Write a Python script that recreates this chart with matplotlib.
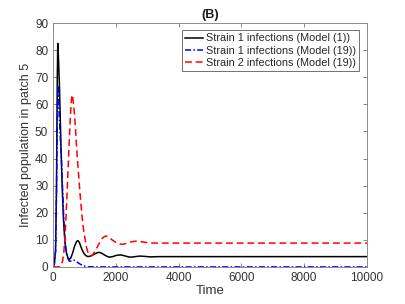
import numpy as np
import matplotlib.pyplot as plt

plt.rcParams['font.family'] = ['Liberation Sans', 'DejaVu Sans']

# Strain 1 infections, Model (1)
t_m1 = [0, 40, 80, 110, 135, 150, 170, 200, 230, 255, 290, 330, 380, 430, 470, 507, 560, 620,
        690, 750, 792, 840, 900, 970, 1040, 1110, 1200, 1300, 1400, 1460, 1540, 1640, 1720, 1800,
        1900, 2000, 2100, 2170, 2280, 2400, 2490, 2620, 2760, 2900, 3100, 3400, 4000, 5000, 10000]
y_m1 = [0, 1, 6, 30, 70, 82.5, 78, 68, 55, 43, 30, 18, 9, 5, 3.5, 2.8, 3.2, 5, 7.8, 9.4, 9.7,
        9.0, 7.0, 5.2, 4.2, 3.8, 4.0, 4.6, 5.2, 5.4, 5.1, 4.4, 3.9, 3.6, 3.8, 4.2, 4.4, 4.4, 4.1,
        3.7, 3.6, 3.8, 4.0, 3.9, 3.7, 3.8, 3.8, 3.8, 3.8]

# Strain 1 infections, Model (19)
t_s1 = [0, 40, 80, 110, 135, 158, 190, 230, 260, 290, 320, 360, 400, 440, 480, 520, 580, 650,
        720, 800, 880, 950, 1030, 1110, 1500, 3000, 10000]
y_s1 = [0, 1, 6, 28, 55, 67, 58, 48, 42, 33, 24, 13, 7, 4.5, 3.0, 2.1, 2.2, 2.6, 2.2, 1.5,
        0.9, 0.5, 0.2, 0.05, 0, 0, 0]

# Strain 2 infections, Model (19)
t_s2 = [0, 150, 200, 250, 300, 340, 380, 420, 460, 500, 540, 575, 600, 630, 670, 710, 745,
        800, 860, 920, 980, 1060, 1120, 1170, 1250, 1350, 1450, 1550, 1630, 1700, 1780, 1880,
        2000, 2120, 2250, 2400, 2550, 2650, 2800, 3000, 3200, 3600, 10000]
y_s2 = [0, 0, 0.1, 0.5, 2, 5, 11, 20, 31, 42, 53, 60, 63.5, 62.5, 58, 52, 45, 36, 27, 19,
        13, 7.5, 5, 4.0, 4.3, 6.0, 8.3, 10.3, 11.2, 11.4, 11.0, 10.0, 9.0, 8.4, 8.4, 8.9, 9.4,
        9.5, 9.3, 9.0, 8.8, 8.8, 8.8]

fig = plt.figure(figsize=(4.05, 3.04), dpi=100)
ax = fig.add_axes([0.131, 0.122, 0.775, 0.802])

ax.plot(t_m1, y_m1, color='k', lw=1.1, label='Strain 1 infections (Model (1))')
ax.plot(t_s1, y_s1, color='b', lw=1.1, ls=(0, (4, 1.5, 1, 1.5)), label='Strain 1 infections (Model (19))')
ax.plot(t_s2, y_s2, color='r', lw=1.1, ls=(0, (4.5, 2.5)), label='Strain 2 infections (Model (19))')

ax.set_xlim(0, 10000)
ax.set_ylim(0, 90)
ax.set_xticks(np.arange(0, 10001, 2000))
ax.set_yticks(np.arange(0, 91, 10))
ax.tick_params(direction='in', top=True, right=True, length=3, width=0.6,
               labelsize=8.5, colors='0.45', labelcolor='0.2')
for s in ax.spines.values():
    s.set_color('0.55')
    s.set_linewidth(0.7)

ax.set_xlabel('Time', fontsize=9.5, color='0.2', labelpad=1)
ax.set_ylabel('Infected population in patch 5', fontsize=9, color='0.2', labelpad=2)
ax.set_title('(B)', fontsize=9, fontweight='bold', color='0.1', pad=4)

leg = ax.legend(loc='upper right', bbox_to_anchor=(0.975, 0.971), borderaxespad=0,
                fontsize=7.8, frameon=True, fancybox=False, handlelength=1.6,
                handletextpad=0.3, borderpad=0.3, labelspacing=0.2)
leg.get_frame().set_edgecolor('0.3')
leg.get_frame().set_linewidth(0.7)
for txt in leg.get_texts():
    txt.set_color('0.15')

fig.savefig('out.png', dpi=100)
